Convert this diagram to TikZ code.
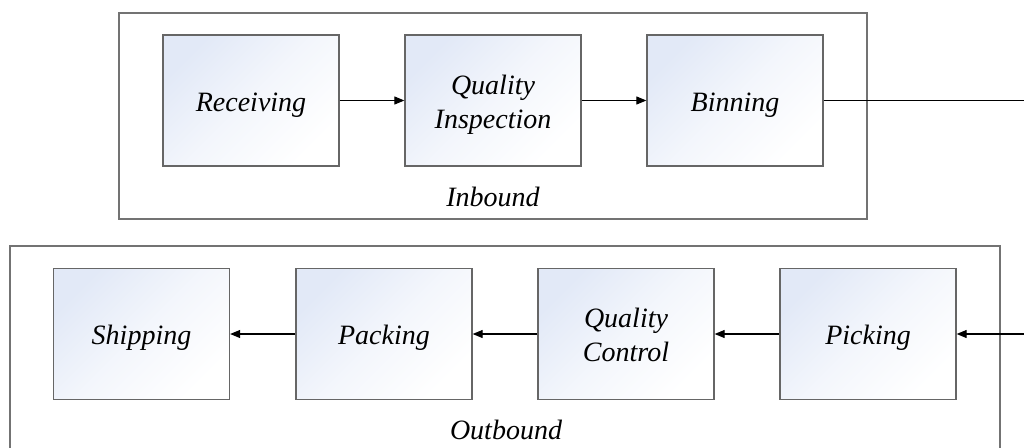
\documentclass[tikz,border=0pt]{standalone}
\usepackage{fontspec}
\setmainfont{Liberation Serif}
\usetikzlibrary{arrows.meta}
\definecolor{boxtint}{RGB}{226,233,247}
% stage caption: centred lines, drawn a little below the box centre
\newcommand\stagecaption[1]{\raisebox{-4pt}[\height][\depth]{\renewcommand\arraystretch{1.1}\begin{tabular}{@{}c@{}}#1\end{tabular}}}
\tikzset{
  stage/.style={draw=black!60, line width=1.3pt, minimum width=176pt, minimum height=131pt,
    inner sep=0pt, top color=boxtint, bottom color=white, middle color=white!60!boxtint,
    shading angle=45, font=\itshape\fontsize{28}{31}\selectfont},
  group/.style={draw=black!55, line width=1.2pt},
  grouplabel/.style={font=\itshape\fontsize{28}{31}\selectfont},
  flow/.style={-{Triangle[length=10pt,width=8pt]}, line width=1.1pt}
}
\begin{document}
\begin{tikzpicture}[x=1pt,y=-1pt]
\useasboundingbox (0,0) rectangle (1024,447);
\fill[white] (0,0) rectangle (1024,447);
% containers
\draw[group] (119,13) rectangle (867,219);
\node[grouplabel] (inlabel) at (493,197) {Inbound};
\begin{scope}
\clip (0,0) rectangle (1024,447);
\draw[group] (10,246) rectangle (1000,470);
\end{scope}
\node[grouplabel] (outlabel) at (506,430) {Outbound};
% inbound stages
\node[stage] (recv) at (251,100.5) {\stagecaption{Receiving}};
\node[stage] (qi) at (493,100.5) {\stagecaption{Quality\\Inspection}};
\node[stage] (bin) at (735,100.5) {\stagecaption{Binning}};
% outbound stages
\node[stage] (ship) at (141.5,334) {\stagecaption{Shipping}};
\node[stage] (pack) at (384,334) {\stagecaption{Packing}};
\node[stage] (qc) at (626,334) {\stagecaption{Quality\\Control}};
\node[stage] (pick) at (868,334) {\stagecaption{Picking}};
% links leaving and entering the picture edge
\coordinate (outR) at (1024,100.5);
\coordinate (inR) at (1024,334);
\draw[flow] (recv) -- (qi);
\draw[flow] (qi) -- (bin);
\draw[line width=1.1pt] (bin.east) -- (outR);
\draw[flow] (inR) -- (pick.east);
\draw[flow] (pick) -- (qc);
\draw[flow] (qc) -- (pack);
\draw[flow] (pack) -- (ship);
\end{tikzpicture}
\end{document}
